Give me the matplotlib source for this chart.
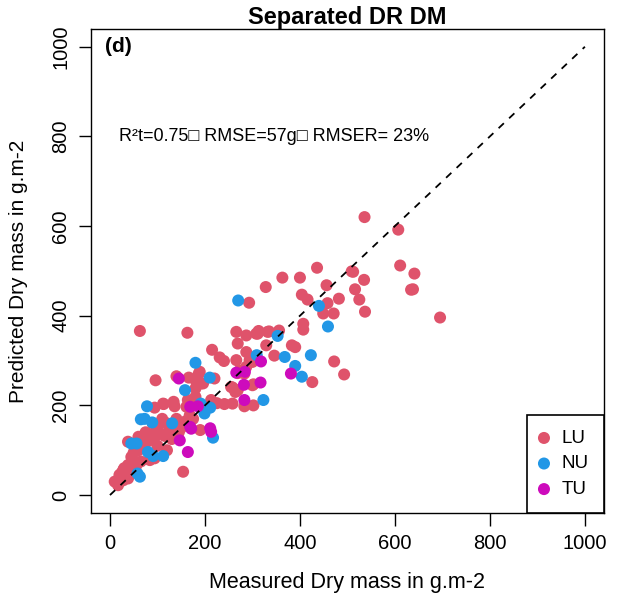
import matplotlib
matplotlib.use("Agg")
import matplotlib.pyplot as plt

plt.rcParams['font.family'] = ['Liberation Sans', 'DejaVu Sans']

# measured / predicted dry mass (g.m-2)
lu_x = [536, 607, 611, 641, 634, 638, 695, 436, 363, 400, 328, 456, 509, 512, 535, 516,
        404, 416, 458, 482, 525, 449, 471, 537, 407, 407, 293, 308, 313, 335, 356,
        346, 383, 390, 426, 472, 493, 302, 266, 287, 311, 332, 269, 329, 215, 231, 240, 266,
        300, 287, 273, 283, 269, 294, 287, 300, 255, 264, 220, 189, 196,
        283, 302, 258, 241, 213, 63, 163, 187, 166, 140, 96, 182, 192, 180, 180, 258, 269,
        164, 161, 134, 136, 113, 94, 168,
        17, 10, 28, 38, 28, 38, 45, 49, 45, 38, 84, 94, 154, 112,
        75, 85, 95, 105, 115, 125, 70, 80, 100, 120, 140, 150, 110, 90, 60, 50, 25, 20,
        55, 65, 30, 100, 130, 145, 160, 175, 190, 200, 225, 120, 60, 35]
lu_y = [620, 592, 512, 494, 458, 459, 396, 507, 485, 485, 464, 468, 499, 498, 480, 459,
        447, 436, 428, 438, 436, 405, 405, 409, 382, 369, 429, 360, 366, 365, 367,
        311, 334, 330, 252, 298, 269, 247, 364, 356, 360, 364, 338, 334, 324, 307, 299, 301,
        297, 286, 278, 271, 272, 301, 319, 245, 241, 230, 260, 275, 249,
        198, 200, 204, 203, 212, 366, 362, 271, 262, 265, 256, 252, 249, 238, 219, 240, 234,
        212, 197, 208, 198, 203, 195, 178,
        22, 30, 33, 37, 56, 67, 56, 71, 85, 119, 78, 82, 52, 204,
        140, 135, 130, 138, 132, 145, 110, 120, 150, 160, 170, 150, 170, 160, 100, 95, 50, 45,
        65, 75, 60, 110, 125, 140, 165, 170, 145, 190, 205, 100, 130, 45]

nu_x = [440, 459, 353, 309, 368, 423, 390, 404, 323, 270, 180, 210, 158, 191, 201, 211,
        199, 78, 65, 73, 89, 131, 63, 58, 45, 56, 80, 91, 112, 217]
nu_y = [422, 376, 355, 312, 308, 312, 288, 264, 212, 434, 295, 262, 234, 204, 193, 195,
        182, 198, 169, 170, 162, 160, 41, 48, 115, 115, 96, 87, 87, 128]

tu_x = [318, 381, 317, 266, 284, 282, 283, 145, 169, 211, 185, 164, 147, 171, 213, 169]
tu_y = [298, 271, 251, 273, 275, 246, 212, 260, 152, 149, 198, 96, 122, 148, 141, 197]

groups = ['LU', 'NU', 'TU']
colors = ['#DF536B', '#2297E6', '#CD0BBC']

fig = plt.figure(figsize=(6.18, 6.0), dpi=100)
ax = fig.add_axes([0.1472, 0.145, 0.830, 0.807])

for gx, gy, name, col in zip([lu_x, nu_x, tu_x], [lu_y, nu_y, tu_y], groups, colors):
    ax.scatter(gx, gy, s=75, color=col, edgecolors='none', label=name, zorder=2)

ax.plot([0, 1000], [0, 1000], color='black', linestyle=(0, (4, 4)), linewidth=1.3, zorder=3)

ax.set_xlim(-40, 1040)
ax.set_ylim(-40, 1040)
ticks = [0, 200, 400, 600, 800, 1000]
ax.set_xticks(ticks)
ax.set_yticks(ticks)
ax.set_yticklabels([str(t) for t in ticks], rotation=90, va='center')
ax.tick_params(direction='out', length=9, width=1, labelsize=14.5, pad=6)
for sp in ax.spines.values():
    sp.set_linewidth(1)

ax.set_xlabel('Measured Dry mass in g.m-2', fontsize=15.5)
ax.set_ylabel('Predicted Dry mass in g.m-2', fontsize=15)
ax.xaxis.set_label_coords(0.5, -0.121)
ax.yaxis.set_label_coords(-0.122, 0.5)
ax.set_title('Separated DR DM', fontsize=17, fontweight='bold', pad=3)

ax.text(-10, 1000, '(d)', fontsize=15, fontweight='bold', va='center', ha='left')
ax.text(20, 800, 'R²t=0.75□ RMSE=57g□ RMSER= 23%', fontsize=13, va='center', ha='left')

leg = ax.legend(loc='lower right', fontsize=13.5, frameon=True, fancybox=False,
                edgecolor='black', framealpha=1, borderaxespad=0,
                handlelength=0.2, handletextpad=0.85, borderpad=0.8, labelspacing=0.45)
leg.get_frame().set_linewidth(1.2)

fig.savefig('out.png', dpi=100)
